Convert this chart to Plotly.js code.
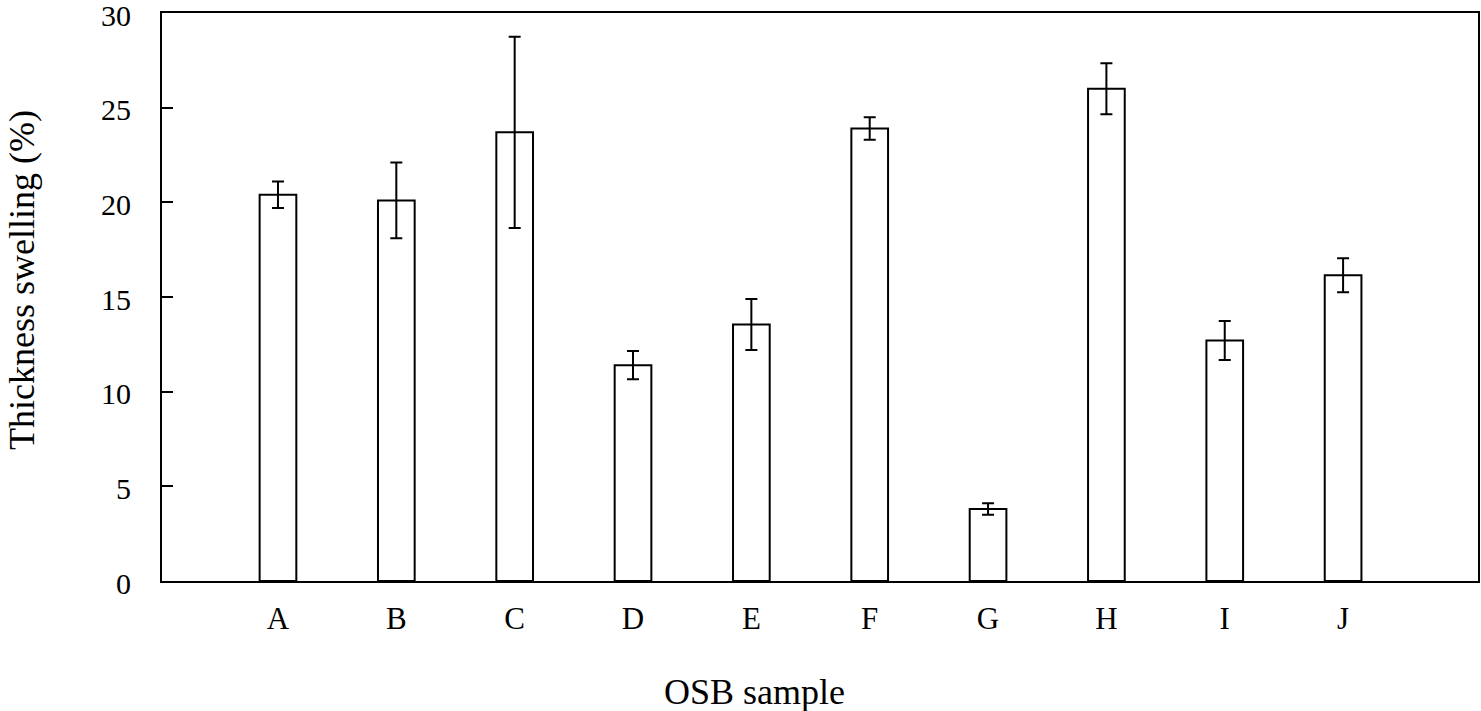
<!DOCTYPE html>
<html>
<head>
<meta charset="utf-8">
<script src="https://cdn.plot.ly/plotly-3.0.1.min.js"></script>
<style>html,body{margin:0;padding:0;background:#fff;}#chart{width:1481px;height:711px;}</style>
</head>
<body>
<div id="chart"></div>
<script>
const samples = ["A","B","C","D","E","F","G","H","I","J"];
const swelling = [20.4, 20.1, 23.7, 11.4, 13.55, 23.9, 3.8, 26.0, 12.7, 16.15];
const swellingErr = [0.7, 2.0, 5.05, 0.75, 1.35, 0.6, 0.3, 1.35, 1.03, 0.9];
const yTicks = [0, 5, 10, 15, 20, 25, 30];
const xTitle = "OSB sample";
const yTitle = "Thickness swelling (%)";

const font = "'Liberation Serif', 'Times New Roman', serif";

const trace = {
  type: "bar",
  x: samples,
  y: swelling,
  width: 0.31,
  marker: {color: "#ffffff", line: {color: "#000000", width: 2}},
  error_y: {type: "data", array: swellingErr, visible: true, color: "#000000", thickness: 2, width: 6},
  hoverinfo: "x+y"
};

const layout = {
  width: 1481, height: 711,
  margin: {l: 162, r: 3, t: 13, b: 130},
  paper_bgcolor: "#ffffff", plot_bgcolor: "#ffffff",
  showlegend: false,
  font: {family: font, color: "#000000", size: 30},
  xaxis: {
    type: "category",
    range: [-0.98, 10.14],
    showline: true, linecolor: "#000000", linewidth: 2, mirror: true,
    ticks: "", showgrid: false, zeroline: false,
    tickfont: {family: font, size: 31, color: "#000000"},
    ticklabelstandoff: 9
  },
  yaxis: {
    range: [0, 30],
    tickvals: yTicks, ticktext: yTicks.map(String),
    showline: true, linecolor: "#000000", linewidth: 2, mirror: true,
    ticks: "inside", ticklen: 11, tickwidth: 2, tickcolor: "#000000",
    showgrid: false, zeroline: false,
    tickfont: {family: font, size: 30, color: "#000000"},
    ticklabelstandoff: 23,
    ticklabelshift: 2,
    ticklabeloverflow: "allow"
  },
  annotations: [
    {text: xTitle, xref: "paper", yref: "paper", x: 0.4506, y: -0.195,
     xanchor: "center", yanchor: "middle", showarrow: false,
     font: {family: font, size: 36, color: "#000000"}},
    {text: yTitle, xref: "paper", yref: "paper", x: -0.1064, y: 0.53,
     xanchor: "center", yanchor: "middle", textangle: -90, showarrow: false,
     font: {family: font, size: 36, color: "#000000"}}
  ]
};

Plotly.newPlot("chart", [trace], layout, {displayModeBar: false, staticPlot: true});
</script>
</body>
</html>
